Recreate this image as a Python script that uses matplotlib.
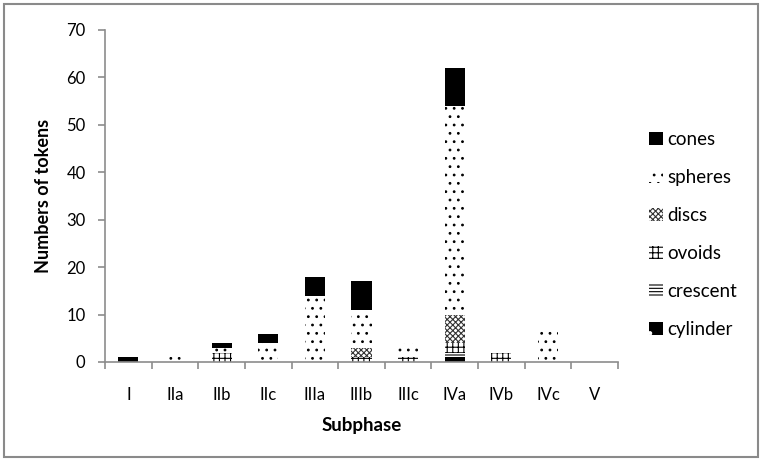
import numpy as np
import matplotlib
matplotlib.use("Agg")
import matplotlib.pyplot as plt
from matplotlib.patches import Patch, Rectangle

plt.rcParams['font.family'] = ['Lato', 'DejaVu Sans']
plt.rcParams['hatch.linewidth'] = 0.8

subphases = ["I", "IIa", "IIb", "IIc", "IIIa", "IIIb", "IIIc", "IVa", "IVb", "IVc", "V"]

# stacked from the bottom up
cylinder = [0, 0, 0, 0, 0, 0, 0, 1, 0, 0, 0]
crescent = [0, 0, 0, 0, 0, 0, 0, 1, 0, 0, 0]
ovoids = [0, 0, 2, 0, 0, 1, 1, 2, 2, 0, 0]
discs = [0, 0, 0, 0, 0, 2, 0, 6, 0, 0, 0]
spheres = [0, 1, 1, 4, 14, 8, 3, 44, 0, 7, 0]
cones = [1, 0, 1, 2, 4, 6, 0, 8, 0, 0, 0]

yticks = [0, 10, 20, 30, 40, 50, 60, 70]

series = [
    ("cylinder", cylinder, "black", "white", "."),
    ("crescent", crescent, "white", "black", "-----"),
    ("ovoids", ovoids, "white", "black", "+++"),
    ("discs", discs, "white", "#333333", "xxxxxx"),
    ("spheres", spheres, "white", "black", ".."),
    ("cones", cones, "black", "black", None),
]

fig = plt.figure(figsize=(7.64, 4.62), dpi=100)
ax = fig.add_axes([105 / 764, 100 / 462, 513 / 764, 332 / 462])

x = np.arange(len(subphases))
bottom = np.zeros(len(subphases))
handles = {}
for name, vals, fc, hc, hatch in series:
    vals = np.array(vals, dtype=float)
    ax.bar(x, vals, width=0.43, bottom=bottom, color=fc, edgecolor=hc,
           hatch=hatch, linewidth=0)
    bottom += vals
    handles[name] = Patch(facecolor=fc, edgecolor=hc, hatch=hatch, linewidth=0)

ax.set_xlim(-0.5, len(subphases) - 0.5)
ax.set_ylim(0, 70)
ax.set_yticks(yticks)
ax.set_xticks(x)
ax.set_xticklabels(subphases)
ax.set_xticks(np.arange(len(subphases) + 1) - 0.5, minor=True)

for s in ["top", "right"]:
    ax.spines[s].set_visible(False)
for s in ["left", "bottom"]:
    ax.spines[s].set_color("#8c8c8c")
    ax.spines[s].set_linewidth(1.2)

ax.tick_params(axis="y", length=5, width=1.2, color="#8c8c8c", pad=9, labelsize=12)
ax.tick_params(axis="x", which="major", length=0, pad=18, labelsize=12)
ax.tick_params(axis="x", which="minor", length=5, width=1.2, color="#8c8c8c")

ax.set_ylabel("Numbers of tokens", fontsize=13, fontweight="bold", labelpad=10)
ax.set_xlabel("Subphase", fontsize=13.5, fontweight="bold", labelpad=10)

order = ["cones", "spheres", "discs", "ovoids", "crescent", "cylinder"]
fig.legend([handles[n] for n in order], order, loc="upper left",
           bbox_to_anchor=(649 / 764, 1 - 131 / 462), frameon=False,
           fontsize=13.5, handlelength=0.75, handleheight=0.75,
           handletextpad=0.25, labelspacing=1.12, borderpad=0, borderaxespad=0)

# outer chart border
fig.patches.append(Rectangle((4 / 764, 5 / 462), 754 / 764, 453 / 462,
                             transform=fig.transFigure, fill=False,
                             edgecolor="#8a8a8a", linewidth=1.5))

fig.savefig("out.png", dpi=100)
